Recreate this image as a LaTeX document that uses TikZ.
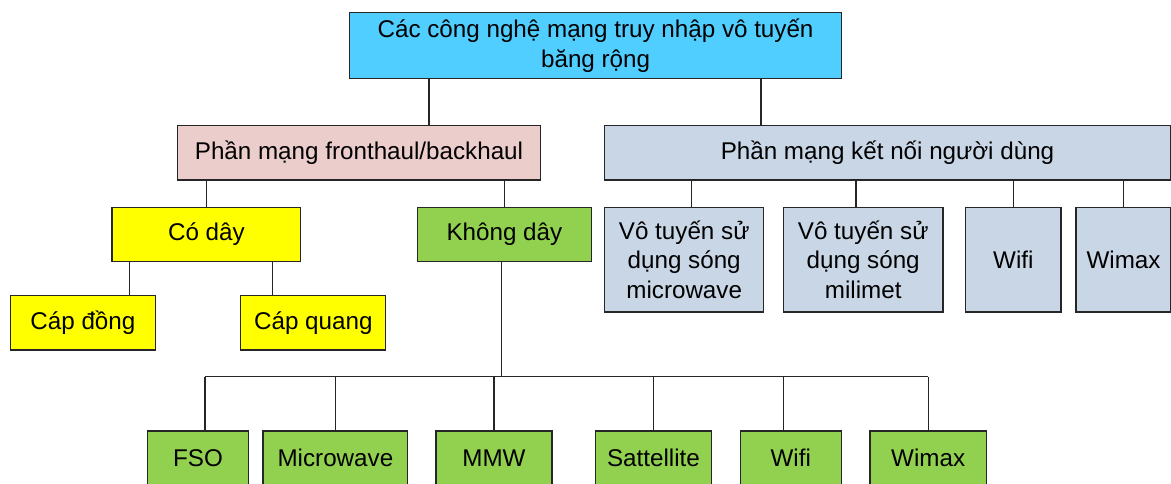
\documentclass[tikz,border=0pt]{standalone}
\usepackage{fontspec}
\setmainfont{Liberation Sans}
\definecolor{topc}{HTML}{50CEFF}
\definecolor{pinkc}{HTML}{EBCDCC}
\definecolor{userc}{HTML}{C8D6E6}
\definecolor{yelc}{HTML}{FFFF00}
\definecolor{grnc}{HTML}{92D050}
\begin{document}
\begin{tikzpicture}[x=1pt,y=-1pt,
  box/.style={draw=black!85, line width=1.3pt, inner sep=0pt, align=center,
              font=\fontsize{24.2}{29.5}\selectfont, text=black},
  conn/.style={draw=black!85, line width=1.3pt}]
\useasboundingbox (0,0) rectangle (1171,484);
\clip (0,0) rectangle (1171,484);

% level 0
\node[box, fill=topc, minimum width=492pt, minimum height=65.6pt] (top) at (595.6,45.5)
  {Các công nghệ mạng truy nhập vô tuyến\\băng rộng};
% level 1
\node[box, fill=pinkc, minimum width=363.5pt, minimum height=54.3pt] (pink) at (359,152.9)
  {Phần mạng fronthaul/backhaul};
\node[box, fill=userc, minimum width=565.6pt, minimum height=54.3pt] (user) at (887.5,152.9)
  {Phần mạng kết nối người dùng};
% level 2 left
\node[box, fill=yelc, minimum width=188.8pt, minimum height=54.4pt] (coday) at (206.4,234.5) {Có dây};
\node[box, fill=grnc, minimum width=174.2pt, minimum height=54.4pt] (khongday) at (504.4,234.5) {Không dây};
% level 2 right
\node[box, fill=userc, minimum width=159pt, minimum height=104.7pt] (umw) at (684.2,259.7)
  {Vô tuyến sử\\dụng sóng\\microwave};
\node[box, fill=userc, minimum width=159.7pt, minimum height=104.7pt] (umm) at (863.2,259.7)
  {Vô tuyến sử\\dụng sóng\\milimet};
\node[box, fill=userc, minimum width=95.3pt, minimum height=104.7pt] (uwifi) at (1013.4,259.7) {Wifi};
\node[box, fill=userc, minimum width=95pt, minimum height=104.7pt] (uwimax) at (1123.5,259.7) {Wimax};
% level 3 wired
\node[box, fill=yelc, minimum width=145pt, minimum height=54.3pt] (capdong) at (82.9,322.9) {Cáp đồng};
\node[box, fill=yelc, minimum width=145pt, minimum height=54.3pt] (capquang) at (313.3,322.9) {Cáp quang};
% level 3 wireless
\node[box, fill=grnc, minimum width=101.4pt, minimum height=54.4pt] (fso) at (198,458.2) {FSO};
\node[box, fill=grnc, minimum width=144.7pt, minimum height=54.4pt] (micro) at (335.4,458.2) {Microwave};
\node[box, fill=grnc, minimum width=116pt, minimum height=54.4pt] (mmw) at (494,458.2) {MMW};
\node[box, fill=grnc, minimum width=115.6pt, minimum height=54.4pt] (sat) at (653.5,458.2) {Sattellite};
\node[box, fill=grnc, minimum width=101pt, minimum height=54.4pt] (wifi) at (790.8,458.2) {Wifi};
\node[box, fill=grnc, minimum width=116.3pt, minimum height=54.4pt] (wimax) at (928.2,458.2) {Wimax};

% connector columns
\coordinate (xa) at (429,0);
\coordinate (xb) at (761,0);
\coordinate (xc) at (129.6,0);
\coordinate (xd) at (272.7,0);
\coordinate (xe) at (501.2,0);
\coordinate (xf) at (205,0);
\coordinate (xg) at (783.7,0);
\coordinate (xh) at (691.7,0);
\coordinate (xi) at (856,0);
\coordinate (bus) at (0,376.7);

\draw[conn] (top.south -| xa) -- (pink.north -| xa);
\draw[conn] (top.south -| xb) -- (user.north -| xb);
\draw[conn] (pink.south -| coday.north) -- (coday.north);
\draw[conn] (pink.south -| khongday.north) -- (khongday.north);
\draw[conn] (coday.south -| xc) -- (capdong.north -| xc);
\draw[conn] (coday.south -| xd) -- (capquang.north -| xd);
\draw[conn] (user.south -| xh) -- (umw.north -| xh);
\draw[conn] (user.south -| xi) -- (umm.north -| xi);
\draw[conn] (user.south -| uwifi.north) -- (uwifi.north);
\draw[conn] (user.south -| uwimax.north) -- (uwimax.north);
\draw[conn] (khongday.south -| xe) -- (bus -| xe);
\draw[conn] (bus -| xf) -- (bus -| wimax.north);
\draw[conn] (bus -| xf) -- (fso.north -| xf);
\draw[conn] (bus -| micro.north) -- (micro.north);
\draw[conn] (bus -| mmw.north) -- (mmw.north);
\draw[conn] (bus -| sat.north) -- (sat.north);
\draw[conn] (bus -| xg) -- (wifi.north -| xg);
\draw[conn] (bus -| wimax.north) -- (wimax.north);
\end{tikzpicture}
\end{document}
